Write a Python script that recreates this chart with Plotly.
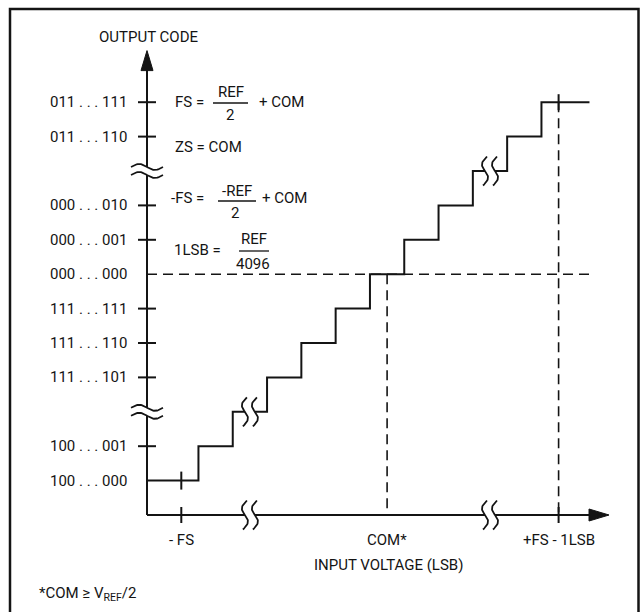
import numpy as np
import plotly.graph_objects as go

# ---------------- data ----------------
code_levels = [1, 2, 4, 5, 6, 7, 8, 9, 11, 12]
code_labels = ["100 . . . 000", "100 . . . 001", "111 . . . 101", "111 . . . 110",
               "111 . . . 111", "000 . . . 000", "000 . . . 001", "000 . . . 010",
               "011 . . . 110", "011 . . . 111"]
ticked_levels = [2, 4, 5, 6, 8, 9, 11, 12]
axis_break_levels = [3, 10]
step_levels = [1, 2, 3, 4, 5, 6, 7, 8, 9, 10, 11, 12]
step_edges = [1.5, 2.5, 3.5, 4.5, 5.5, 6.5, 7.5, 8.5, 9.5, 10.5, 11.5]
step_start, step_end = 0.0, 12.9
input_ticks = [1, 7, 12]
input_labels = ["- FS", "COM*", "+FS - 1LSB"]
axis_break_inputs = [3, 10]
stair_breaks = [(3, 3), (10, 10)]
zero_code_level = 7
com_input = 7
fs_input = 12
fs_input_low = 1
axis_tip_x, axis_tip_y = 13.47, 13.5

# ---------------- geometry helpers (pixel -> axis units) ----------------
W, H = 642, 612
X0, Y0 = 147.0, 515.0
SX, SY = 34.3, 34.4
def ux(px): return (px - X0) / SX
def uy(py): return (Y0 - py) / SY
def dx(p): return p / SX
def dy(p): return p / SY

INK = "#141414"
FONT = "Roboto"
FS = 15
LW = 2

fig = go.Figure()

def line(xs, ys, width=LW, color=INK, dash=None):
    fig.add_trace(go.Scatter(x=xs, y=ys, mode="lines", hoverinfo="skip",
                             line=dict(color=color, width=width, dash=dash)))

# dashed reference lines
line([0, step_end], [zero_code_level, zero_code_level], width=1.6, dash="10px,6px")
line([com_input, com_input], [zero_code_level, 0], width=1.6, dash="10px,6px")
line([fs_input, fs_input], [step_levels[-1], 0], width=1.6, dash="10px,6px")

# axes
line([0, 0], [0, axis_tip_y - dy(15)])
line([0, axis_tip_x - dx(15)], [0, 0])
# arrowheads
fig.add_trace(go.Scatter(x=[0, -dx(6), dx(6), 0], y=[axis_tip_y, axis_tip_y - dy(20), axis_tip_y - dy(20), axis_tip_y],
                         fill="toself", fillcolor=INK, mode="lines", line=dict(color=INK, width=1), hoverinfo="skip"))
fig.add_trace(go.Scatter(x=[axis_tip_x, axis_tip_x - dx(20), axis_tip_x - dx(20), axis_tip_x], y=[0, dy(6), -dy(6), 0],
                         fill="toself", fillcolor=INK, mode="lines", line=dict(color=INK, width=1), hoverinfo="skip"))

# staircase
sx_, sy_ = [step_start], [step_levels[0]]
for i, e in enumerate(step_edges):
    sx_ += [e, e]
    sy_ += [step_levels[i], step_levels[i + 1]]
sx_.append(step_end)
sy_.append(step_levels[-1])
line(sx_, sy_)

# y-axis ticks
tx, ty = [], []
for lv in ticked_levels:
    tx += [-dx(9), dx(9), None]
    ty += [lv, lv, None]
line(tx, ty)
# x ticks at -FS and +FS-1LSB
line([fs_input_low, fs_input_low, None, fs_input_low, fs_input_low],
     [step_levels[0] - dy(9), step_levels[0] + dy(9), None, -dy(8), dy(8)])
line([fs_input, fs_input, None, fs_input, fs_input],
     [step_levels[-1] - dy(8), step_levels[-1] + dy(8), None, -dy(8), dy(8)])

# break symbols
t = np.linspace(-1, 1, 40)
def vbreak(cx, cy):
    line([cx - dx(5), cx + dx(5)], [cy, cy], width=5, color="white")
    for off in (-5, 5):
        xs = cx + dx(off + 4 * np.sin(np.pi * t) - 2 * t)
        ys = cy - dy(14.5 * t)
        line(list(xs), list(ys), width=1.8)
def hbreak(cx, cy):
    line([cx, cx], [cy - dy(4), cy + dy(4)], width=5, color="white")
    for off in (-4, 4):
        xs = cx + dx(16 * t)
        ys = cy + dy(off - 3 * np.sin(np.pi * t))
        line(list(xs), list(ys), width=1.8)
for lv in axis_break_levels:
    hbreak(0, lv)
for xi in axis_break_inputs:
    vbreak(xi, 0)
for (bx, by) in stair_breaks:
    vbreak(bx, by)

# ---------------- text ----------------
ann = []
def txt(x, y, s, xanchor="center", size=FS):
    ann.append(dict(x=x, y=y, xref="x", yref="y", text=s, showarrow=False,
                    xanchor=xanchor, yanchor="middle",
                    font=dict(family=FONT, size=size, color=INK)))

for lv, lab in zip(code_levels, code_labels):
    txt(ux(129), lv, lab.replace(" ", "\u00a0"), xanchor="right")
for xi, lab in zip(input_ticks, input_labels):
    txt(xi, uy(540), lab)
txt(ux(148), uy(37), "OUTPUT CODE")
txt(ux(388), uy(565), "INPUT VOLTAGE (LSB)")
txt(ux(37), uy(594), "*COM \u2265 V<sub>REF</sub>/2", xanchor="left")

txt(ux(173), uy(102), "FS =", xanchor="left")
txt(ux(231), uy(92), "REF")
txt(ux(230), uy(115), "2")
txt(ux(257), uy(102), "+ COM", xanchor="left")
txt(ux(173), uy(147), "ZS = COM", xanchor="left")
txt(ux(169), uy(198), "-FS =", xanchor="left")
txt(ux(237), uy(191), "-REF")
txt(ux(235), uy(213), "2")
txt(ux(260), uy(198), "+ COM", xanchor="left")
txt(ux(172), uy(250), "1LSB =", xanchor="left")
txt(ux(254), uy(239), "REF")
txt(ux(253), uy(264), "4096")

shapes = []
for (x0p, x1p, yp) in [(213, 248, 103), (218, 256, 201), (239, 269, 251)]:
    shapes.append(dict(type="line", xref="x", yref="y", x0=ux(x0p), x1=ux(x1p), y0=uy(yp), y1=uy(yp),
                       line=dict(color=INK, width=1.3)))
# frame
shapes.append(dict(type="rect", xref="paper", yref="paper", x0=10 / W, x1=638.5 / W, y0=1 - 625 / H, y1=1 - 9 / H,
                   line=dict(color=INK, width=2.5)))

fig.update_layout(
    width=W, height=H, margin=dict(l=0, r=0, t=0, b=0),
    paper_bgcolor="white", plot_bgcolor="white", showlegend=False,
    xaxis=dict(range=[ux(0), ux(W)], visible=False, fixedrange=True),
    yaxis=dict(range=[uy(H), uy(0)], visible=False, fixedrange=True),
    annotations=ann, shapes=shapes,
)
fig.write_html("out.html", config={"displayModeBar": False, "staticPlot": True},
               post_script="document.body.style.margin='0';document.body.style.overflow='hidden';")
